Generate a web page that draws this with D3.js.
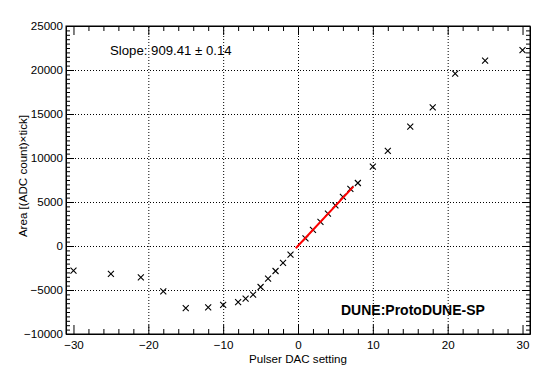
<!DOCTYPE html>
<html>
<head>
<meta charset="utf-8">
<script src="https://cdn.jsdelivr.net/npm/d3@7"></script>
<style>
  body { margin: 0; background: #fff; }
  svg { display: block; font-family: "Liberation Sans", Arial, sans-serif; }
  .axis path { stroke: #000; }
  .axis line { stroke: #000; }
  .grid line { stroke: #000; stroke-dasharray: 1,2; }
  .grid path { display: none; }
</style>
</head>
<body>
<div id="chart"></div>
<script>
const width = 549,
    height = 372,
    plotLeft = 66,
    plotRight = 530,
    plotTop = 26,
    plotBottom = 334;

// pulser DAC setting vs pulse area
const dac = [-30, -25, -21, -18, -15, -12, -10, -8, -7, -6, -5, -4, -3, -2, -1,
    1, 2, 3, 4, 5, 6, 7, 8, 10, 12, 15, 18, 21, 25, 30];
const area = [-2800, -3180, -3560, -5150, -7050, -6980, -6700, -6380, -5990, -5530,
    -4660, -3720, -2840, -1930, -990, 875, 1820, 2730, 3670, 4625, 5570, 6480, 7160,
    9010, 10800, 13560, 15760, 19580, 21060, 22270];

// linear fit
const slope = 909.41,
    slopeErr = 0.14,
    intercept = 20;
const fitRange = [-0.3, 7.4];

const xMajor = [-30, -20, -10, 0, 10, 20, 30];
const yMajor = [-10000, -5000, 0, 5000, 10000, 15000, 20000, 25000];

const svg = d3
    .select("#chart")
    .append("svg")
    .attr("width", width)
    .attr("height", height);

const xScale = d3.scaleLinear().domain([-31, 31]).range([plotLeft, plotRight]);
const yScale = d3.scaleLinear().domain([-10000, 25000]).range([plotBottom, plotTop]);

const xMinor = d3.range(-30, 31, 2).filter((v) => v % 10 !== 0);
const yMinor = d3.range(-10000, 25001, 500).filter((v) => v % 5000 !== 0);

const fmt = (d) => d3.format("d")(d).replace("-", "\u2212");

// grid
svg.append("g")
    .attr("class", "grid")
    .attr("transform", "translate(0," + plotBottom + ")")
    .call(d3.axisBottom(xScale).tickValues(xMajor.slice(1, -1)).tickSize(-(plotBottom - plotTop)).tickFormat(""));
svg.append("g")
    .attr("class", "grid")
    .attr("transform", "translate(" + plotLeft + ",0)")
    .call(d3.axisLeft(yScale).tickValues(yMajor.slice(1, -1)).tickSize(-(plotRight - plotLeft)).tickFormat(""));

// axes, ticks pointing inwards
const xAxis = svg.append("g")
    .attr("class", "axis")
    .attr("transform", "translate(0," + plotBottom + ")")
    .call(d3.axisBottom(xScale).tickValues(xMajor).tickSizeInner(-9).tickSizeOuter(0)
        .tickPadding(7).tickFormat(fmt));
xAxis.selectAll("text").style("font-size", "11.6px").attr("fill", "#000");
svg.append("g")
    .attr("class", "axis")
    .attr("transform", "translate(0," + plotBottom + ")")
    .call(d3.axisBottom(xScale).tickValues(xMinor).tickSize(-5).tickFormat(""))
    .select("path").remove();
svg.append("g")
    .attr("class", "axis")
    .attr("transform", "translate(0," + plotTop + ")")
    .call(d3.axisTop(xScale).tickValues(xMajor).tickSizeInner(-9).tickSizeOuter(0).tickFormat(""));
svg.append("g")
    .attr("class", "axis")
    .attr("transform", "translate(0," + plotTop + ")")
    .call(d3.axisTop(xScale).tickValues(xMinor).tickSize(-5).tickFormat(""))
    .select("path").remove();

const yAxis = svg.append("g")
    .attr("class", "axis")
    .attr("transform", "translate(" + plotLeft + ",0)")
    .call(d3.axisLeft(yScale).tickValues(yMajor).tickSizeInner(-8).tickSizeOuter(0)
        .tickFormat(fmt));
yAxis.selectAll("text").style("font-size", "11.6px").attr("fill", "#000").attr("x", -3);
svg.append("g")
    .attr("class", "axis")
    .attr("transform", "translate(" + plotLeft + ",0)")
    .call(d3.axisLeft(yScale).tickValues(yMinor).tickSize(-4).tickFormat(""))
    .select("path").remove();
svg.append("g")
    .attr("class", "axis")
    .attr("transform", "translate(" + plotRight + ",0)")
    .call(d3.axisRight(yScale).tickValues(yMajor).tickSizeInner(-8).tickSizeOuter(0).tickFormat(""));
svg.append("g")
    .attr("class", "axis")
    .attr("transform", "translate(" + plotRight + ",0)")
    .call(d3.axisRight(yScale).tickValues(yMinor).tickSize(-4).tickFormat(""))
    .select("path").remove();

// frame
svg.append("rect")
    .attr("x", plotLeft)
    .attr("y", plotTop)
    .attr("width", plotRight - plotLeft)
    .attr("height", plotBottom - plotTop)
    .attr("fill", "none")
    .attr("stroke", "#000");

// markers
const m = 3;
svg.append("g")
    .selectAll("path")
    .data(dac.map((d, i) => [d, area[i]]))
    .enter()
    .append("path")
    .attr("d", (d) => {
        const cx = xScale(d[0]), cy = yScale(d[1]);
        return "M" + (cx - m) + "," + (cy - m) + "L" + (cx + m) + "," + (cy + m) +
            "M" + (cx - m) + "," + (cy + m) + "L" + (cx + m) + "," + (cy - m);
    })
    .attr("stroke", "#000")
    .attr("stroke-width", 1.1)
    .attr("fill", "none");

// fit line
svg.append("line")
    .attr("x1", xScale(fitRange[0]))
    .attr("y1", yScale(intercept + slope * fitRange[0]))
    .attr("x2", xScale(fitRange[1]))
    .attr("y2", yScale(intercept + slope * fitRange[1]))
    .attr("stroke", "#ff0000")
    .attr("stroke-width", 2);

// labels
svg.append("text")
    .attr("x", 347)
    .attr("y", 363)
    .attr("text-anchor", "end")
    .style("font-size", "11.6px")
    .text("Pulser DAC setting");
svg.append("text")
    .attr("transform", "translate(27,115) rotate(-90)")
    .attr("text-anchor", "end")
    .style("font-size", "11.6px")
    .text("Area [(ADC count)\u00d7tick]");
svg.append("text")
    .attr("x", 110)
    .attr("y", 55)
    .style("font-size", "13.2px")
    .text("Slope: " + slope.toFixed(2) + " \u00b1 " + slopeErr.toFixed(2));
svg.append("text")
    .attr("x", 341)
    .attr("y", 315)
    .style("font-size", "14px")
    .style("font-weight", "bold")
    .text("DUNE:ProtoDUNE-SP");
</script>
</body>
</html>
